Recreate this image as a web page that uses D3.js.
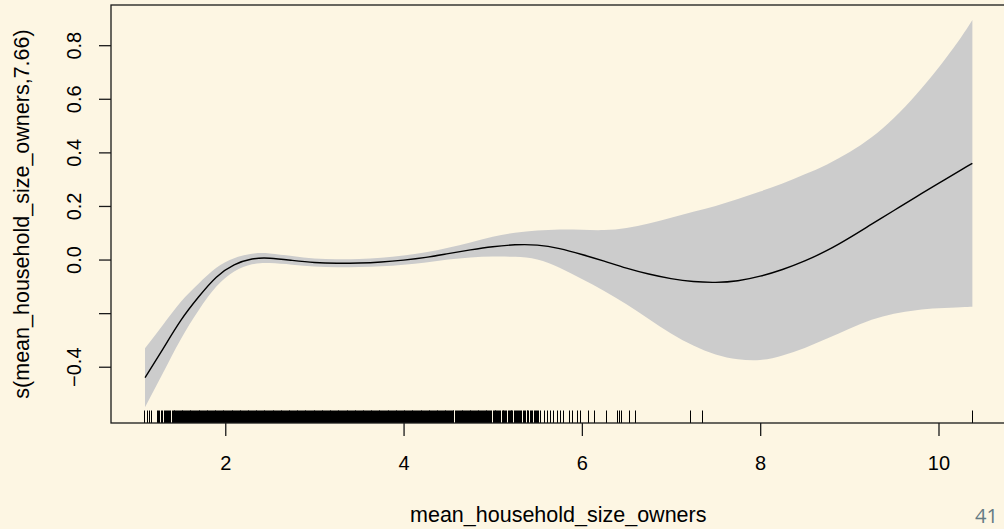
<!DOCTYPE html>
<html>
<head>
<meta charset="utf-8">
<script src="https://cdn.jsdelivr.net/npm/d3@7"></script>
<style>
  html, body { margin: 0; padding: 0; background: #fdf6e3; }
  svg { display: block; }
</style>
</head>
<body>
<svg id="chart" width="1004" height="529"></svg>
<script>
// Smooth term s(mean_household_size_owners, 7.66): estimate with lower/upper 2·SE limits
const gridX = [1.1, 1.3, 1.5, 1.7, 1.9, 2.1, 2.3, 2.5, 2.75, 3.0, 3.25, 3.5, 3.75, 4.0,
  4.25, 4.5, 4.75, 5.0, 5.25, 5.5, 5.75, 6.0, 6.25, 6.5, 6.75, 7.0, 7.25, 7.5, 7.75,
  8.0, 8.25, 8.5, 8.75, 9.0, 9.25, 9.5, 9.75, 10.0, 10.25, 10.38];
const fitValues = [-0.441, -0.334, -0.228, -0.140, -0.066, -0.020, 0.002, 0.005, -0.003,
  -0.011, -0.014, -0.013, -0.009, -0.002, 0.008, 0.022, 0.036, 0.048, 0.055, 0.054,
  0.041, 0.019, -0.006, -0.032, -0.054, -0.071, -0.082, -0.085, -0.079, -0.062, -0.037,
  -0.005, 0.034, 0.081, 0.132, 0.183, 0.234, 0.284, 0.334, 0.359];
const lowerValues = [-0.551, -0.424, -0.298, -0.190, -0.101, -0.045, -0.018, -0.013,
  -0.019, -0.026, -0.029, -0.028, -0.025, -0.019, -0.011, 0.000, 0.008, 0.011, 0.010,
  0.000, -0.031, -0.073, -0.117, -0.167, -0.222, -0.276, -0.321, -0.354, -0.372, -0.375,
  -0.358, -0.330, -0.295, -0.258, -0.225, -0.202, -0.189, -0.182, -0.178, -0.176];
const upperValues = [-0.331, -0.244, -0.158, -0.090, -0.031, 0.005, 0.022, 0.023, 0.013,
  0.004, 0.001, 0.002, 0.007, 0.015, 0.027, 0.044, 0.064, 0.085, 0.100, 0.108, 0.112,
  0.111, 0.110, 0.118, 0.135, 0.156, 0.178, 0.200, 0.226, 0.254, 0.284, 0.318, 0.355,
  0.400, 0.456, 0.528, 0.616, 0.716, 0.828, 0.894];

// Observed covariate values shown as a rug along the bottom
const rugText = `
1.09 1.12 1.15 1.17 1.23 1.25 1.26 1.28 1.29 1.31 1.32 1.33 1.35 1.36 1.37 1.38
1.40 1.41 1.42 1.43 1.44 1.45 1.46 1.47 1.48 1.49 1.50 1.51 1.52 1.53 1.54 1.55
1.56 1.57 1.58 1.59 1.60 1.61 1.62 1.63 1.64 1.65 1.66 1.67 1.68 1.69
1.70 1.71 1.72 1.73 1.74 1.75 1.76 1.77 1.78 1.79 1.80 1.81 1.82 1.83 1.84 1.85
1.86 1.87 1.88 1.89 1.90 1.91 1.92 1.93 1.94 1.95 1.96 1.97 1.98 1.99
2.00 2.01 2.02 2.03 2.04 2.05 2.06 2.07 2.08 2.09 2.10 2.11 2.12 2.13 2.14 2.15
2.16 2.17 2.18 2.19 2.20 2.21 2.22 2.23 2.24 2.25 2.26 2.27 2.28 2.29 2.30 2.31
2.32 2.33 2.34 2.35 2.36 2.37 2.38 2.39 2.40 2.41 2.42 2.43 2.44 2.45 2.46 2.47
2.48 2.49 2.50 2.51 2.52 2.53 2.54 2.55 2.56 2.57 2.58 2.59 2.60 2.61 2.62 2.63
2.64 2.65 2.66 2.67 2.68 2.69 2.70 2.71 2.72 2.73 2.74 2.75 2.76 2.77 2.78 2.79
2.80 2.81 2.82 2.83 2.84 2.85 2.86 2.87 2.88 2.89 2.90 2.91 2.92 2.93 2.94 2.95
2.96 2.97 2.98 2.99 3.00 3.01 3.02 3.03 3.04 3.05 3.06 3.07 3.08 3.09 3.10 3.11
3.12 3.13 3.14 3.15 3.16 3.17 3.18 3.19 3.20 3.21 3.22 3.23 3.24 3.25 3.26 3.27
3.28 3.29 3.30 3.31 3.32 3.33 3.34 3.35 3.36 3.37 3.38 3.39 3.40 3.41 3.42 3.43
3.44 3.45 3.46 3.47 3.48 3.49 3.50 3.51 3.52 3.53 3.54 3.55 3.56 3.57 3.58 3.59
3.60 3.61 3.62 3.63 3.64 3.65 3.66 3.67 3.68 3.69 3.70 3.71 3.72 3.73 3.74 3.75
3.76 3.77 3.78 3.79 3.80 3.81 3.82 3.83 3.84 3.85 3.86 3.87 3.88 3.89 3.90 3.91
3.92 3.93 3.94 3.95 3.96 3.97 3.98 3.99 4.00 4.01 4.02 4.03 4.04 4.05 4.06 4.07
4.08 4.09 4.10 4.11 4.12 4.13 4.14 4.15 4.16 4.17 4.18 4.19 4.20 4.21 4.22 4.23
4.24 4.25 4.26 4.27 4.28 4.29 4.30 4.31 4.32 4.33 4.34 4.35 4.36 4.37 4.38 4.39
4.40 4.41 4.42 4.43 4.44 4.45 4.46 4.47 4.48 4.49 4.50 4.51 4.52 4.53 4.54 4.55
4.56 4.58 4.59 4.60 4.61 4.62 4.63 4.64 4.65 4.66 4.67 4.68 4.69 4.70 4.71 4.72
4.73 4.74 4.75 4.76 4.77 4.78 4.79 4.80 4.81 4.82 4.83 4.84 4.85 4.86 4.87 4.88
4.89 4.90 4.91 4.92 4.93 4.94 4.95 4.96 4.97 4.98 5.00 5.01 5.02 5.03 5.04 5.05
5.06 5.07 5.08 5.10 5.11 5.12 5.13 5.14 5.15 5.17 5.18 5.19 5.20 5.21 5.22 5.24
5.25 5.26 5.27 5.28 5.30 5.31 5.32 5.34 5.35 5.36 5.38 5.39 5.40 5.42 5.43 5.44
5.46 5.47 5.48 5.50 5.51 5.53 5.57 5.61 5.64 5.68 5.72 5.76 5.79 5.85 5.89 5.94
5.98 6.07 6.14 6.27 6.39 6.42 6.44 6.53 6.60 7.21 7.35 10.38`;
const rugValues = rugText.trim().split(/\s+/).map(Number);

const xTicks = [2, 4, 6, 8, 10];
const yTicks = [-0.4, -0.2, 0.0, 0.2, 0.4, 0.6, 0.8];
const yTickLabels = ["\u22120.4", "", "0.0", "0.2", "0.4", "0.6", "0.8"];
const xTitle = "mean_household_size_owners";
const yTitle = "s(mean_household_size_owners,7.66)";
const pageNumber = "41";

const bandData = gridX.map((x, i) => ({
  x, fit: fitValues[i], lo: lowerValues[i], hi: upperValues[i]
}));

const plot = { left: 111, right: 1005.5, top: 5, bottom: 423 };
const font = "'Liberation Sans', Arial, Helvetica, sans-serif";

const x = d3.scaleLinear().domain([0.7184, 10.7516]).range([plot.left, plot.right]);
const y = d3.scaleLinear().domain([-0.61, 0.95]).range([plot.bottom, plot.top]);

const svg = d3.select("#chart");
svg.append("rect").attr("width", 1004).attr("height", 529).attr("fill", "#fdf6e3");

// confidence band
svg.append("path")
  .datum(bandData)
  .attr("fill", "#cccccc")
  .attr("d", d3.area().curve(d3.curveNatural)
    .x(d => x(d.x)).y0(d => y(d.lo)).y1(d => y(d.hi)));

// estimated smooth
svg.append("path")
  .datum(bandData)
  .attr("fill", "none")
  .attr("stroke", "#000")
  .attr("stroke-width", 1.4)
  .attr("d", d3.line().curve(d3.curveNatural).x(d => x(d.x)).y(d => y(d.fit)));

// rug
const rugLen = 12.5;
svg.append("g")
  .attr("stroke", "#000")
  .attr("stroke-width", 1)
  .selectAll("line")
  .data(rugValues)
  .join("line")
  .attr("x1", d => Math.round(x(d)) + 0.5)
  .attr("x2", d => Math.round(x(d)) + 0.5)
  .attr("y1", plot.bottom)
  .attr("y2", plot.bottom - rugLen);

// x axis
const xAxis = svg.append("g")
  .attr("transform", `translate(0,${plot.bottom})`)
  .call(d3.axisBottom(x).tickValues(xTicks).tickSize(13).tickFormat(d3.format("d")));
xAxis.select(".domain").remove();
xAxis.selectAll(".tick line").attr("stroke", "#1a1a1a").attr("stroke-width", 1.3);
xAxis.selectAll(".tick text")
  .attr("font-family", font).attr("font-size", 20).attr("fill", "#000")
  .attr("dy", null).attr("y", 47);

// y axis
const yAxis = svg.append("g")
  .attr("transform", `translate(${plot.left},0)`)
  .call(d3.axisLeft(y).tickValues(yTicks).tickSize(12).tickFormat((d, i) => yTickLabels[i]));
yAxis.select(".domain").remove();
yAxis.selectAll(".tick line").attr("stroke", "#1a1a1a").attr("stroke-width", 1.3);
yAxis.selectAll(".tick text")
  .attr("font-family", font).attr("font-size", 20).attr("fill", "#000")
  .attr("x", null).attr("dy", null)
  .attr("text-anchor", "middle")
  .attr("transform", `translate(${81 - plot.left},0) rotate(-90)`);

// plot frame
svg.append("rect")
  .attr("x", plot.left).attr("y", plot.top)
  .attr("width", plot.right - plot.left).attr("height", plot.bottom - plot.top)
  .attr("fill", "none").attr("stroke", "#1a1a1a").attr("stroke-width", 1.3);

// axis titles
svg.append("text")
  .attr("x", (plot.left + plot.right) / 2).attr("y", 522)
  .attr("text-anchor", "middle")
  .attr("font-family", font).attr("font-size", 21.5).attr("fill", "#000")
  .text(xTitle);

svg.append("text")
  .attr("transform", `translate(29,${(plot.top + plot.bottom) / 2}) rotate(-90)`)
  .attr("text-anchor", "middle")
  .attr("font-family", font).attr("font-size", 21.5).attr("fill", "#000")
  .text(yTitle);

// page number
svg.append("text")
  .attr("x", 975).attr("y", 523)
  .attr("font-family", "'Open Sans', 'Noto Sans', sans-serif").attr("font-size", 20)
  .attr("fill", "#657b83")
  .text(pageNumber);
</script>
</body>
</html>
